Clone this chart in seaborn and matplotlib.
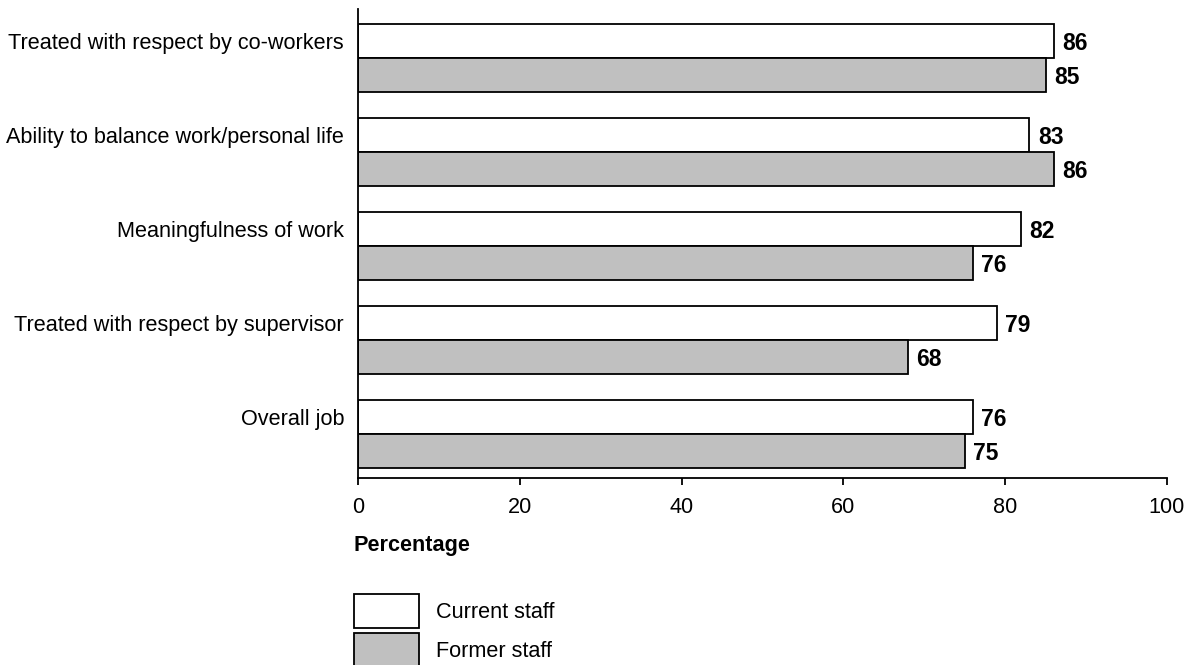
import pandas as pd
import matplotlib
matplotlib.use("Agg")
from matplotlib import pyplot as plt
import seaborn as sns

# survey items and the two staff groups
items = [
    "Treated with respect by co-workers",
    "Ability to balance work/personal life",
    "Meaningfulness of work",
    "Treated with respect by supervisor",
    "Overall job",
]
current_staff = [86, 83, 82, 79, 76]
former_staff = [85, 86, 76, 68, 75]
groups = ["Current staff", "Former staff"]
x_ticks = [0, 20, 40, 60, 80, 100]

df = pd.DataFrame({
    "item": items * 2,
    "pct": current_staff + former_staff,
    "staff": [groups[0]] * len(items) + [groups[1]] * len(items),
})

sns.set_style("ticks")
plt.rcParams["font.family"] = ["Liberation Sans", "DejaVu Sans"]
plt.rcParams.update({
    "text.color": "black",
    "axes.labelcolor": "black",
    "xtick.color": "black",
    "ytick.color": "black",
    "axes.edgecolor": "black",
})
fs = 15.6

fig = plt.figure(figsize=(11.95, 6.65), dpi=100)
ax = fig.add_axes([358 / 1195, 1 - 478 / 665, (1167 - 358) / 1195, (478 - 9) / 665])

sns.barplot(
    data=df, y="item", x="pct", hue="staff", order=items, hue_order=groups,
    palette={"Current staff": "white", "Former staff": "#c0c0c0"},
    edgecolor="black", linewidth=1.3, width=0.72, orient="h", ax=ax,
)

# bold value labels at the end of each bar
for cont in ax.containers:
    lbls = ax.bar_label(cont, fmt="%d", padding=6, fontsize=16.5, fontweight="bold")
    for t in lbls:
        t.set_va("center_baseline")

ax.set_xlim(0, 100)
ax.set_ylim(4.47, -0.52)
ax.set_xticks(x_ticks)
ax.set_xticklabels([str(t) for t in x_ticks], fontsize=fs)
ax.set_yticks([i - 0.18 for i in range(len(items))])
ax.set_yticklabels(items, fontsize=fs)
ax.tick_params(axis="y", length=0, pad=10)
ax.tick_params(axis="x", length=5, width=1.3, pad=9, direction="out")
ax.set_xlabel("")
ax.set_ylabel("")
sns.despine(ax=ax)
for s in ["left", "bottom"]:
    ax.spines[s].set_linewidth(1.3)

fig.text(353 / 1195, 1 - 545 / 665, "Percentage", fontsize=fs, fontweight="bold",
         ha="left", va="center")

handles, labels = ax.get_legend_handles_labels()
ax.get_legend().remove()
fig.legend(handles, labels, loc="upper left", bbox_to_anchor=(354 / 1195, 1 - 594 / 665),
           frameon=False, fontsize=fs, handlelength=3.0, handleheight=2.04,
           labelspacing=0.23, handletextpad=0.78, borderpad=0, borderaxespad=0)

fig.savefig("out.png", dpi=100)
